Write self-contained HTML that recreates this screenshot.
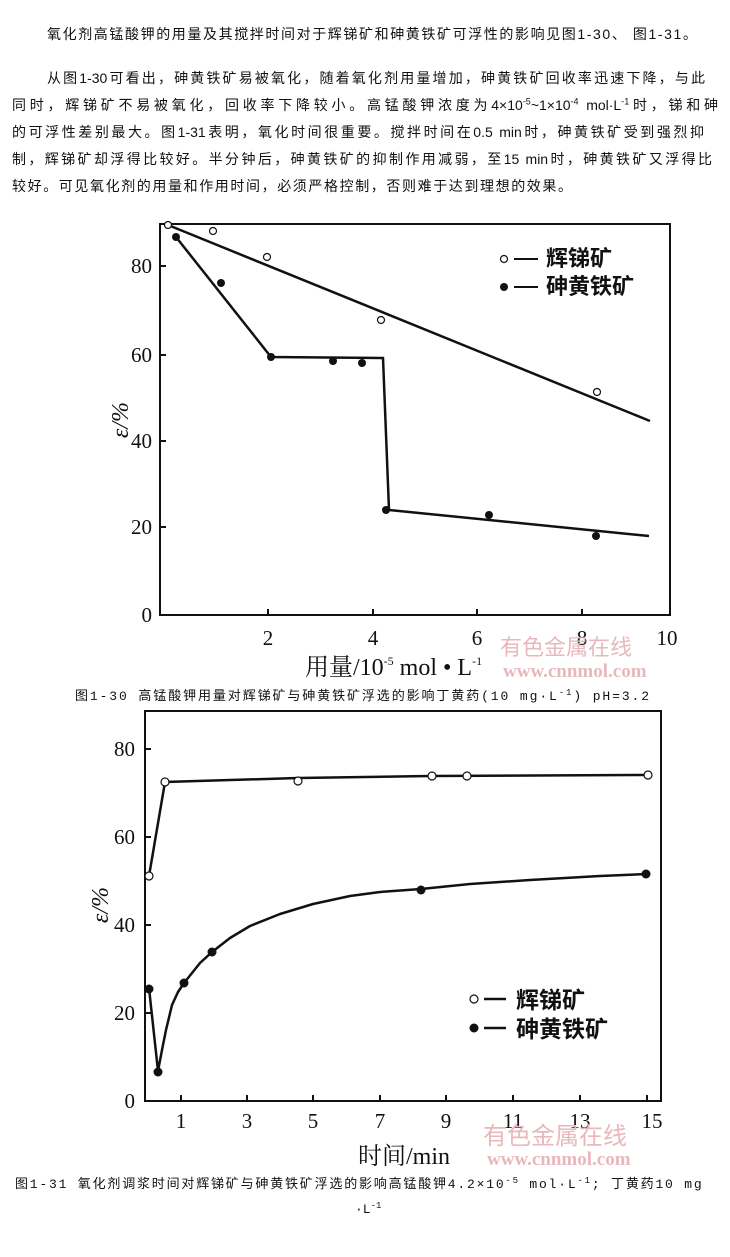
<!DOCTYPE html>
<html><head><meta charset="utf-8"><style>
body{margin:0;background:#fff;width:730px;height:1257px;overflow:hidden;font-family:"Liberation Sans","Noto Sans CJK SC",sans-serif;}
.t{position:absolute;font-size:14px;color:#111;white-space:nowrap;}
.j{white-space:normal;text-align:justify;text-align-last:justify;height:20px;overflow:hidden;}
sup{font-size:9px;line-height:0}
</style></head><body>
<div class="t" style="left:47px;top:24px;letter-spacing:1.6px">氧化剂高锰酸钾的用量及其搅拌时间对于辉锑矿和砷黄铁矿可浮性的影响见图1-30、 图1-31。</div>
<div class="t j" style="left:47px;top:68px;width:658px">从图1-30可看出，砷黄铁矿易被氧化，随着氧化剂用量增加，砷黄铁矿回收率迅速下降，与此</div>
<div class="t j" style="left:12px;top:95px;width:706px">同时，辉锑矿不易被氧化，回收率下降较小。高锰酸钾浓度为4×10<sup>-5</sup>~1×10<sup>-4</sup> mol·L<sup>-1</sup>时，锑和砷</div>
<div class="t j" style="left:12px;top:122px;width:692px">的可浮性差别最大。图1-31表明，氧化时间很重要。搅拌时间在0.5 min时，砷黄铁矿受到强烈抑</div>
<div class="t j" style="left:12px;top:149px;width:700px">制，辉锑矿却浮得比较好。半分钟后，砷黄铁矿的抑制作用减弱，至15 min时，砷黄铁矿又浮得比</div>
<div class="t" style="left:12px;top:176px;letter-spacing:1.6px">较好。可见氧化剂的用量和作用时间，必须严格控制，否则难于达到理想的效果。</div>
<svg width="730" height="1257" style="position:absolute;left:0;top:0" font-family="Liberation Serif,Noto Serif CJK SC,serif">
<g stroke="#111" fill="none" stroke-width="2">
<rect x="160" y="224" width="510" height="391"/>
<path d="M268 615v-6M373 615v-6M477 615v-6M582 615v-6M160 527h6M160 441h6M160 355h6M160 266h6"/>
<path d="M168 225L650 421" stroke-width="2.5"/>
<path d="M176 237L271 357L383 358L389 510L649 536" stroke-width="2.5"/>
</g>
<g fill="#111"><circle cx="176" cy="237" r="4"/><circle cx="221" cy="283" r="4"/><circle cx="271" cy="357" r="4"/><circle cx="333" cy="361" r="4"/><circle cx="362" cy="363" r="4"/><circle cx="386" cy="510" r="4"/><circle cx="489" cy="515" r="4"/><circle cx="596" cy="536" r="4"/></g>
<g fill="#fff" stroke="#111" stroke-width="1.2"><circle cx="168" cy="225" r="3.5"/><circle cx="213" cy="231" r="3.5"/><circle cx="267" cy="257" r="3.5"/><circle cx="381" cy="320" r="3.5"/><circle cx="597" cy="392" r="3.5"/><circle cx="504" cy="259" r="3.5"/></g>
<circle cx="504" cy="287" r="4" fill="#111"/>
<g font-size="21" fill="#111" text-anchor="end"><text x="152" y="622">0</text><text x="152" y="534">20</text><text x="152" y="448">40</text><text x="152" y="362">60</text><text x="152" y="273">80</text></g>
<g font-size="21" fill="#111" text-anchor="middle"><text x="268" y="645">2</text><text x="373" y="645">4</text><text x="477" y="645">6</text><text x="582" y="645">8</text><text x="667" y="645">10</text></g>
<g stroke="#111" stroke-width="2"><path d="M514 259h24M514 287h24"/></g>
<text x="546" y="266" font-size="22" fill="#111" font-weight="bold" font-family="Noto Sans CJK SC,sans-serif">辉锑矿</text>
<text x="546" y="294" font-size="22" fill="#111" font-weight="bold" font-family="Noto Sans CJK SC,sans-serif">砷黄铁矿</text>
<text x="128" y="420" font-size="24" fill="#111" font-style="italic" transform="rotate(-90 128 420)" text-anchor="middle">ε/%</text>
<text x="305" y="675" font-size="24" fill="#111">用量/10<tspan font-size="12" dy="-10">-5</tspan><tspan dy="10"> mol • L</tspan><tspan font-size="12" dy="-10">-1</tspan></text>
<text x="500" y="655" font-size="22" fill="#e8b8bc" font-family="Noto Sans CJK SC,sans-serif">有色金属在线</text>
<text x="503" y="677" font-size="19" fill="#e8b8bc" font-weight="bold">www.cnnmol.com</text>
<text x="75" y="700" font-size="13" fill="#111" letter-spacing="1.9" font-family="Liberation Mono,Noto Sans CJK SC,monospace">图1-30 高锰酸钾用量对辉锑矿与砷黄铁矿浮选的影响丁黄药(10 mg·L<tspan font-size="9" dy="-5">-1</tspan><tspan dy="5">)  pH=3.2</tspan></text>

<g stroke="#111" fill="none" stroke-width="2">
<rect x="145" y="711" width="516" height="390"/>
<path d="M181 1101v-6M247 1101v-6M313 1101v-6M380 1101v-6M446 1101v-6M513 1101v-6M580 1101v-6M647 1101v-6M145 1013h6M145 925h6M145 837h6M145 749h6"/>
<path d="M149 876L165 782L298 778L430 776L648 775" stroke-width="2.5"/>
<path d="M149 988L158 1071L162 1050L166 1030L172 1005L178 992L184 983L200 963L212 952L230 938L250 926L280 914L313 904L350 896L380 892L421 889L470 884L530 880L600 876L647 874" stroke-width="2.5" stroke-linejoin="round"/>
</g>
<g fill="#fff" stroke="#111" stroke-width="1.2"><circle cx="149" cy="876" r="4"/><circle cx="165" cy="782" r="4"/><circle cx="298" cy="781" r="4"/><circle cx="432" cy="776" r="4"/><circle cx="467" cy="776" r="4"/><circle cx="648" cy="775" r="4"/><circle cx="474" cy="999" r="4"/></g>
<g fill="#111"><circle cx="149" cy="989" r="4.5"/><circle cx="158" cy="1072" r="4.5"/><circle cx="184" cy="983" r="4.5"/><circle cx="212" cy="952" r="4.5"/><circle cx="421" cy="890" r="4.5"/><circle cx="646" cy="874" r="4.5"/><circle cx="474" cy="1028" r="4.5"/></g>
<g stroke="#111" stroke-width="2.5"><path d="M484 999h22M484 1028h22"/></g>
<text x="516" y="1008" font-size="23" fill="#111" font-weight="bold" font-family="Noto Sans CJK SC,sans-serif">辉锑矿</text>
<text x="516" y="1037" font-size="23" fill="#111" font-weight="bold" font-family="Noto Sans CJK SC,sans-serif">砷黄铁矿</text>
<g font-size="21" fill="#111" text-anchor="end"><text x="135" y="1108">0</text><text x="135" y="1020">20</text><text x="135" y="932">40</text><text x="135" y="844">60</text><text x="135" y="756">80</text></g>
<g font-size="21" fill="#111" text-anchor="middle"><text x="181" y="1128">1</text><text x="247" y="1128">3</text><text x="313" y="1128">5</text><text x="380" y="1128">7</text><text x="446" y="1128">9</text><text x="513" y="1128">11</text><text x="580" y="1128">13</text><text x="652" y="1128">15</text></g>
<text x="108" y="905" font-size="24" fill="#111" font-style="italic" transform="rotate(-90 108 905)" text-anchor="middle">ε/%</text>
<text x="358" y="1164" font-size="24" fill="#111">时间/min</text>
<text x="483" y="1144" font-size="24" fill="#e8b8bc" font-family="Noto Sans CJK SC,sans-serif">有色金属在线</text>
<text x="487" y="1165" font-size="19" fill="#e8b8bc" font-weight="bold">www.cnnmol.com</text>
<text x="15" y="1188" font-size="13" fill="#111" letter-spacing="1.8" font-family="Liberation Mono,Noto Sans CJK SC,monospace">图1-31 氧化剂调浆时间对辉锑矿与砷黄铁矿浮选的影响高锰酸钾4.2×10<tspan font-size="9" dy="-5">-5</tspan><tspan dy="5"> mol·L</tspan><tspan font-size="9" dy="-5">-1</tspan><tspan dy="5">; 丁黄药10 mg</tspan></text>
<text x="355" y="1213" font-size="13" fill="#111" font-family="Liberation Mono,monospace">·L<tspan font-size="9" dy="-5">-1</tspan></text>
</svg>
</body></html>
